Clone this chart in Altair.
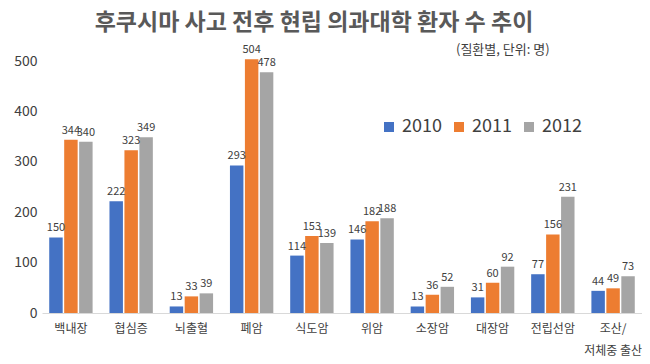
import altair as alt
import pandas as pd

categories = ["백내장", "협심증", "뇌출혈", "폐암", "식도암", "위암", "소장암", "대장암", "전립선암", "조산/\n저체중 출산"]
years = ["2010", "2011", "2012"]
v2010 = [150, 222, 13, 293, 114, 146, 13, 31, 77, 44]
v2011 = [344, 323, 33, 504, 153, 182, 36, 60, 156, 49]
v2012 = [340, 349, 39, 478, 139, 188, 52, 92, 231, 73]
colors = ["#4472C4", "#ED7D31", "#A5A5A5"]

rows = []
for i, c in enumerate(categories):
    for y, vals in zip(years, [v2010, v2011, v2012]):
        rows.append({"cat": c, "year": y, "value": vals[i]})
df = pd.DataFrame(rows)

FONT = "Noto Sans CJK KR"

x = alt.X("cat:N", sort=categories, title=None,
          scale=alt.Scale(paddingInner=0.28, paddingOuter=0.12),
          axis=alt.Axis(labelAngle=0, labelFontSize=12, labelColor="#404040",
                        labelFont=FONT, ticks=False, domainColor="#D9D9D9",
                        labelPadding=10, labelExpr="split(datum.label, '\\n')",
                        labelLineHeight=22))
xo = alt.XOffset("year:N", sort=years, scale=alt.Scale(paddingInner=0.1))
y = alt.Y("value:Q", title=None, scale=alt.Scale(domain=[0, 560]),
          axis=alt.Axis(values=[0, 100, 200, 300, 400, 500], grid=False, ticks=False,
                        domain=False, labelFontSize=14, labelColor="#404040",
                        labelFont=FONT, labelPadding=5))

bars = alt.Chart(df).mark_bar().encode(
    x=x, xOffset=xo, y=y,
    color=alt.Color("year:N", sort=years, scale=alt.Scale(domain=years, range=colors),
                    legend=alt.Legend(title=None, orient="none", direction="horizontal",
                                      legendX=338, legendY=87, symbolType="square",
                                      symbolSize=100, labelFontSize=18, labelColor="#404040",
                                      labelFont=FONT, columnPadding=8, symbolStrokeWidth=0,
                                      labelOffset=4))
)
labels = alt.Chart(df).mark_text(dy=-9, fontSize=11, color="#404040", font=FONT).encode(
    x=x, xOffset=xo, y=y, text="value:Q"
)

sub_df = pd.DataFrame({"t": ["(질환별,  단위: 명)"]})
subtitle = alt.Chart(sub_df).mark_text(fontSize=13, color="#404040", font=FONT,
                                       align="left").encode(
    x=alt.value(414), y=alt.value(19), text="t:N")

chart = alt.layer(bars, labels, subtitle).properties(
    width=600, height=282,
    title=alt.Title("후쿠시마 사고 전후 현립 의과대학 환자 수 추이", fontSize=23,
                    fontWeight="bold", color="#595959", font=FONT, anchor="middle",
                    dx=-28, dy=6, offset=2),
    padding={"left": 34, "top": 23, "right": 0, "bottom": 43},
    autosize=alt.AutoSizeParams(type="none")
).configure_view(stroke=None)

chart.save("out.html", embed_options={"renderer": "svg", "actions": False})
